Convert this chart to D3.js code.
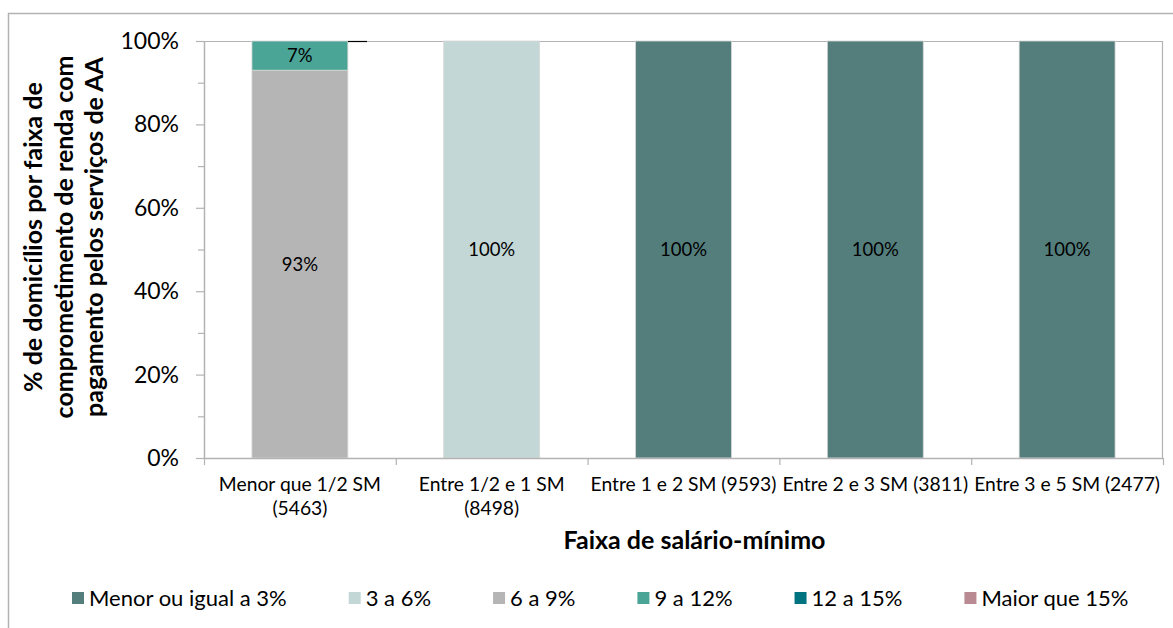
<!DOCTYPE html>
<html>
<head>
<meta charset="utf-8">
<script src="https://cdn.jsdelivr.net/npm/d3@7"></script>
<style>
  html, body { margin: 0; padding: 0; background: #fff; }
  svg { display: block; font-family: Lato, "Open Sans", sans-serif; }
</style>
</head>
<body>
<svg id="chart" width="1173" height="628"></svg>
<script>
// ---- data ----
const categories = [
  ["Menor que 1/2 SM", "(5463)"],
  ["Entre 1/2 e 1 SM", "(8498)"],
  ["Entre 1 e 2 SM (9593)"],
  ["Entre 2 e 3 SM (3811)"],
  ["Entre 3 e 5 SM (2477)"]
];
const seriesNames = ["Menor ou igual a 3%", "3 a 6%", "6 a 9%", "9 a 12%", "12 a 15%", "Maior que 15%"];
const seriesColors = ["#537e7c", "#c3d7d6", "#b5b5b5", "#4ba597", "#007381", "#b98a92"];
const s_le3   = [0, 0, 100, 100, 100];
const s_3to6  = [0, 100, 0, 0, 0];
const s_6to9  = [93, 0, 0, 0, 0];
const s_9to12 = [7, 0, 0, 0, 0];
const s_12to15 = [0, 0, 0, 0, 0];
const s_gt15  = [0, 0, 0, 0, 0];
const seriesValues = [s_le3, s_3to6, s_6to9, s_9to12, s_12to15, s_gt15];
const yTicks = [0, 20, 40, 60, 80, 100];
const yMinorTicks = [10, 30, 50, 70, 90];
const yTitleLines = ["% de domicílios por faixa de", "comprometimento de renda com", "pagamento pelos serviços de AA"];
const xTitle = "Faixa de salário-mínimo";

// ---- layout ----
const svg = d3.select("#chart");
const plot = { left: 204, right: 1163, top: 41, bottom: 458 };
const gray = "#b3b3b3";

// outer chart frame
svg.append("path")
  .attr("d", `M8.5,628 L8.5,13.5 L1180,13.5`)
  .attr("fill", "none").attr("stroke", gray).attr("stroke-width", 1.5);

const x = d3.scaleBand().domain(d3.range(categories.length))
  .range([plot.left, plot.right]).paddingInner(0.5).paddingOuter(0.25);
const xOuter = d3.scaleBand().domain(d3.range(categories.length))
  .range([plot.left, plot.right]);
const y = d3.scaleLinear().domain([0, 100]).range([plot.bottom, plot.top]);

// plot area border (top & right)
svg.append("path")
  .attr("d", `M${plot.left},${plot.top + 0.5} L${plot.right - 0.5},${plot.top + 0.5} L${plot.right - 0.5},${plot.bottom}`)
  .attr("fill", "none").attr("stroke", gray).attr("stroke-width", 1.2);

// stacked data
const rows = categories.map((c, i) => {
  const r = { i };
  seriesNames.forEach((s, k) => r[s] = seriesValues[k][i]);
  return r;
});
const stack = d3.stack().keys(seriesNames)(rows);

const g = svg.append("g");
stack.forEach((layer, k) => {
  g.selectAll(null).data(layer.filter(d => d[1] - d[0] > 0)).enter().append("rect")
    .attr("x", d => x(d.data.i))
    .attr("width", x.bandwidth())
    .attr("y", d => y(d[1]))
    .attr("height", d => y(d[0]) - y(d[1]))
    .attr("fill", seriesColors[k])
    .attr("stroke", "#d6d6d6").attr("stroke-width", 0.8);
});

// leader line artifact near top of first bar
svg.append("line")
  .attr("x1", x(0) + x.bandwidth()).attr("x2", x(0) + x.bandwidth() * 1.2)
  .attr("y1", y(100) + 0.5).attr("y2", y(100) + 0.5)
  .attr("stroke", "#000").attr("stroke-width", 1.2);

// data labels
stack.forEach((layer, k) => {
  g.selectAll(null).data(layer.filter(d => d[1] - d[0] > 0)).enter().append("text")
    .attr("x", d => x(d.data.i) + x.bandwidth() / 2)
    .attr("y", d => (y(d[0]) + y(d[1])) / 2)
    .attr("dy", "0.35em")
    .attr("text-anchor", "middle")
    .attr("font-size", 18.5)
    .attr("fill", "#000")
    .text(d => Math.round(d[1] - d[0]) + "%");
});

// y axis
const yAxisG = svg.append("g").attr("transform", `translate(${plot.left},0)`);
yAxisG.append("line").attr("x1", 0.5).attr("x2", 0.5).attr("y1", plot.top).attr("y2", plot.bottom)
  .attr("stroke", gray).attr("stroke-width", 1.5);
yAxisG.selectAll(".maj").data(yTicks).enter().append("line")
  .attr("x1", -8).attr("x2", 0).attr("y1", d => y(d) + 0.5).attr("y2", d => y(d) + 0.5)
  .attr("stroke", gray).attr("stroke-width", 1.2);
yAxisG.selectAll(".min").data(yMinorTicks).enter().append("line")
  .attr("x1", -6).attr("x2", 0).attr("y1", d => y(d) + 0.5).attr("y2", d => y(d) + 0.5)
  .attr("stroke", gray).attr("stroke-width", 1.2);
yAxisG.selectAll("text").data(yTicks).enter().append("text")
  .attr("x", -25).attr("y", d => y(d)).attr("dy", "0.35em")
  .attr("text-anchor", "end").attr("font-size", 23).attr("fill", "#000")
  .text(d => d + "%");

// x axis
svg.append("line").attr("x1", plot.left).attr("x2", plot.right)
  .attr("y1", plot.bottom + 0.5).attr("y2", plot.bottom + 0.5)
  .attr("stroke", gray).attr("stroke-width", 1.5);
const bounds = d3.range(categories.length + 1).map(i => i < categories.length ? xOuter(i) : plot.right);
svg.selectAll(".xt").data(bounds).enter().append("line")
  .attr("x1", d => d + 0.5).attr("x2", d => d + 0.5)
  .attr("y1", plot.bottom).attr("y2", plot.bottom + 7)
  .attr("stroke", gray).attr("stroke-width", 1.2);
categories.forEach((lines, i) => {
  const t = svg.append("text")
    .attr("x", x(i) + x.bandwidth() / 2).attr("y", 491)
    .attr("text-anchor", "middle").attr("font-size", 19.3).attr("fill", "#000");
  lines.forEach((ln, j) => {
    t.append("tspan").attr("x", x(i) + x.bandwidth() / 2).attr("dy", j === 0 ? 0 : 24).text(ln);
  });
});

// axis titles
svg.append("text")
  .attr("x", (plot.left + plot.right) / 2 + 11).attr("y", 549)
  .attr("text-anchor", "middle").attr("font-size", 25).attr("font-weight", "bold")
  .attr("fill", "#000").text(xTitle);

const yt = svg.append("text")
  .attr("transform", `translate(42,237) rotate(-90)`)
  .attr("text-anchor", "middle").attr("font-size", 25).attr("font-weight", "bold").attr("fill", "#000");
yTitleLines.forEach((ln, j) => {
  yt.append("tspan").attr("x", 0).attr("y", j * 30.5).text(ln);
});

// legend
const lg = svg.append("g").attr("transform", "translate(72,598)");
let lx = 0;
seriesNames.forEach((s, k) => {
  const item = lg.append("g").attr("transform", `translate(${lx},0)`);
  item.append("rect").attr("x", 0).attr("y", -6).attr("width", 12).attr("height", 12)
    .attr("fill", seriesColors[k]);
  const t = item.append("text").attr("x", 17).attr("y", 0).attr("dy", "0.35em")
    .attr("font-size", 22).attr("fill", "#000").text(s);
  lx += 17 + t.node().getComputedTextLength() + 62;
});
</script>
</body>
</html>
